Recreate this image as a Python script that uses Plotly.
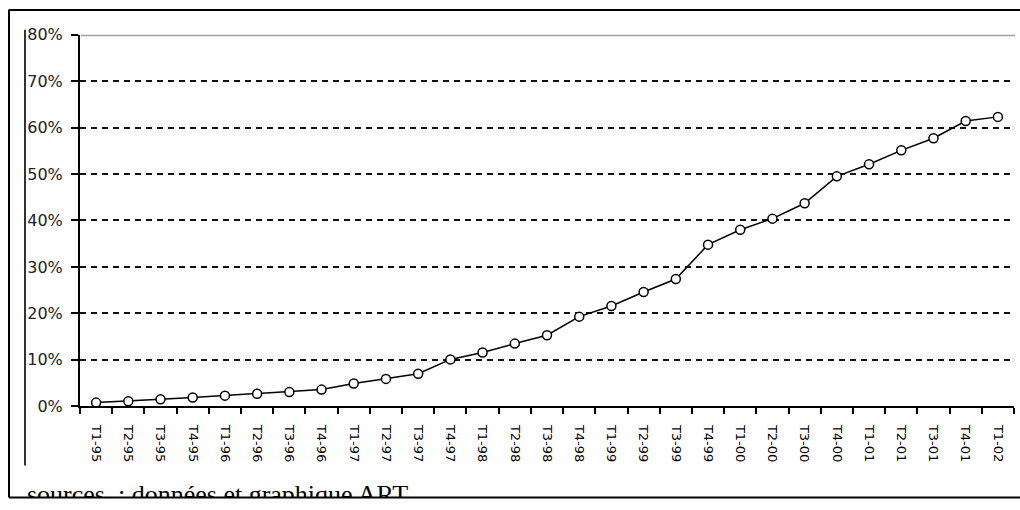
import plotly.graph_objects as go

W, H = 1020, 510

quarters = ["T1-95", "T2-95", "T3-95", "T4-95",
            "T1-96", "T2-96", "T3-96", "T4-96",
            "T1-97", "T2-97", "T3-97", "T4-97",
            "T1-98", "T2-98", "T3-98", "T4-98",
            "T1-99", "T2-99", "T3-99", "T4-99",
            "T1-00", "T2-00", "T3-00", "T4-00",
            "T1-01", "T2-01", "T3-01", "T4-01",
            "T1-02"]
share_pct = [0.8, 1.1, 1.5, 1.9,
             2.3, 2.7, 3.1, 3.6,
             4.9, 5.9, 7.0, 10.1,
             11.6, 13.5, 15.3, 19.3,
             21.6, 24.6, 27.4, 34.8,
             38.0, 40.4, 43.7, 49.5,
             52.1, 55.1, 57.7, 61.4,
             62.3]
y_ticks = [0, 10, 20, 30, 40, 50, 60, 70, 80]
y_tick_labels = [f"{v}%" for v in y_ticks]
source_text = "sources  : données et graphique ART"

# the photographed page is squeezed slightly in height; layout pixel
# positions are pre-compensated so the picture lands where the original is
V_SCALE, V_OFF = 0.961, 9.4


def d(py):
    return (py - V_OFF) / V_SCALE


def px_x(p):
    return p / W


def px_y(p):
    return 1 - d(p) / H


fig = go.Figure()

fig.add_trace(go.Scatter(
    x=quarters, y=share_pct, mode="lines+markers",
    line=dict(color="black", width=1.5),
    marker=dict(symbol="circle", size=9, color="white",
                line=dict(color="black", width=1.5)),
    cliponaxis=False, hoverinfo="skip", showlegend=False,
    xaxis="x", yaxis="y"))

# source note, cut by the bottom frame like the original
fig.add_trace(go.Scatter(
    x=[27], y=[d(497) - 0.5], mode="text", text=[source_text],
    textposition="middle right",
    textfont=dict(family="Liberation Serif", size=26, color="black"),
    cliponaxis=True, hoverinfo="skip", showlegend=False,
    xaxis="x2", yaxis="y2"))

fig.update_layout(
    width=W, height=H, autosize=False,
    margin=dict(l=0, r=0, t=0, b=0, pad=0),
    paper_bgcolor="white", plot_bgcolor="white",
    xaxis=dict(
        domain=[px_x(80), px_x(1014)],
        type="category", range=[-0.5, len(quarters) - 0.5],
        showgrid=False, zeroline=False,
        showline=True, linecolor="black", linewidth=2,
        ticks="outside", ticklen=6, tickwidth=1.5, tickcolor="black",
        tickson="boundaries",
        tickangle=90, ticklabelstandoff=14,
        tickfont=dict(family="DejaVu Sans", size=13, color="black"),
        fixedrange=True),
    yaxis=dict(
        domain=[px_y(406), px_y(35)],
        range=[0, 80], tickvals=y_ticks, ticktext=y_tick_labels,
        showgrid=True, gridcolor="#111111", gridwidth=1.6, griddash="6px,5px",
        zeroline=False,
        showline=True, linecolor="black", linewidth=2,
        ticks="outside", ticklen=7, tickwidth=1.5, tickcolor="black",
        ticklabelstandoff=5,
        tickfont=dict(family="DejaVu Sans", size=16, color="#222222"),
        fixedrange=True),
    xaxis2=dict(domain=[0, 1], range=[0, W], visible=False, fixedrange=True),
    yaxis2=dict(domain=[px_y(497), px_y(450)], range=[d(497), d(450)],
                visible=False, fixedrange=True, anchor="x2"),
)

shapes = []
# gray top line at 80%
shapes.append(dict(type="line", xref="paper", yref="y",
                   x0=px_x(81), x1=px_x(1015), y0=80, y1=80,
                   line=dict(color="#a0a0a0", width=3), layer="above"))
# outer frame
frame = dict(color="black", width=2)
shapes.append(dict(type="line", xref="paper", yref="paper",
                   x0=px_x(9), x1=1, y0=px_y(10.5), y1=px_y(10.5), line=frame))
shapes.append(dict(type="line", xref="paper", yref="paper",
                   x0=px_x(9), x1=px_x(9), y0=px_y(10), y1=px_y(497), line=frame))
shapes.append(dict(type="line", xref="paper", yref="paper",
                   x0=px_x(9), x1=1, y0=px_y(497), y1=px_y(497), line=frame))
# inner left line
shapes.append(dict(type="line", xref="paper", yref="paper",
                   x0=px_x(25), x1=px_x(25), y0=px_y(30), y1=px_y(465),
                   line=dict(color="#333333", width=2)))
fig.update_layout(shapes=shapes)

post = (
    "var gd = document.getElementById('{plot_id}');"
    "document.body.style.margin='0px';"
    "document.body.style.padding='0px';"
    "Plotly.relayout(gd, {width: 1020, height: 510});"
)

fig.write_html("out.html", config={"responsive": False, "displayModeBar": False},
               post_script=post)
